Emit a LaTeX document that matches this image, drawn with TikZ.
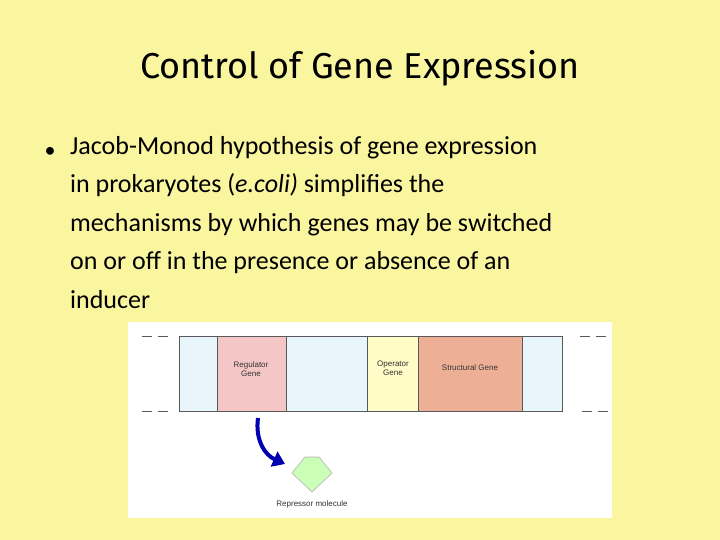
\documentclass[tikz,border=0pt]{standalone}
\usepackage{fontspec}
\usetikzlibrary{arrows.meta}
\setmainfont{Carlito}
\newfontfamily\titlefont{Fira Sans}
\newfontfamily\diagfont{Liberation Sans}
\begin{document}
\begin{tikzpicture}[x=1pt,y=-1pt,
  seg/.style={draw=gray!70!black,line width=0.8pt},
  lbl/.style={font=\diagfont\fontsize{8}{9.5}\selectfont,text=gray!40!black,align=center},
  dashl/.style={draw=gray!70!black,line width=0.8pt,dash pattern=on 10pt off 6pt}]
\definecolor{bg}{HTML}{FAF59F}
\fill[bg] (0,0) rectangle (720,540);
\useasboundingbox (0,0) rectangle (720,540);
\node[font=\titlefont\fontsize{36}{40}\selectfont] (title) at (360,68) {Control of Gene Expression};
\node[font=\fontsize{22}{26}\selectfont] (bullet) at (50,152) {•};
\node[anchor=north west,align=left,inner sep=0pt,font=\fontsize{26}{38.5}\selectfont] (body) at (70,136) {Jacob-Monod hypothesis of gene expression\\in prokaryotes (\textit{e.coli)} simplifies the\\mechanisms by which genes may be switched\\on or off in the presence or absence of an\\inducer};
\fill[white] (128,322) rectangle (612,518);
\definecolor{lb}{HTML}{E8F6FC}\definecolor{pk}{HTML}{F5C6C6}
\definecolor{yl}{HTML}{FFFCC8}\definecolor{sa}{HTML}{EDB096}
\draw[seg,fill=lb] (179,336) rectangle (217,411);
\draw[seg,fill=pk] (217,336) rectangle (286,411);
\draw[seg,fill=lb] (286,336) rectangle (367,411);
\draw[seg,fill=yl] (367,336) rectangle (418,411);
\draw[seg,fill=sa] (418,336) rectangle (522,411);
\draw[seg,fill=lb] (522,336) rectangle (562,411);
\node[lbl] (reg) at (251,369) {Regulator\\Gene};
\node[lbl] (op) at (393,368) {Operator\\Gene};
\node[lbl] (str) at (470,368) {Structural Gene};
\draw[dashl] (142,336) -- (168,336); \draw[dashl] (142,411) -- (168,411);
\draw[dashl] (580,336) -- (606,336); \draw[dashl] (582,411) -- (608,411);
\draw[draw=gray!60,fill=green!20!white!90!lime,line width=0.6pt] (305,457) -- (319,457) -- (332,473) -- (312,492) -- (292,473) -- cycle;
\node[lbl,anchor=north] (rm) at (312,497) {Repressor molecule};
\coordinate (a0) at (258,418);
\coordinate (a1) at (285,464);
\draw[blue!70!black,line width=4pt,-{Triangle[length=12pt,width=16pt]}] (a0) .. controls (255,440) and (265,455) .. (a1);
\end{tikzpicture}
\end{document}
